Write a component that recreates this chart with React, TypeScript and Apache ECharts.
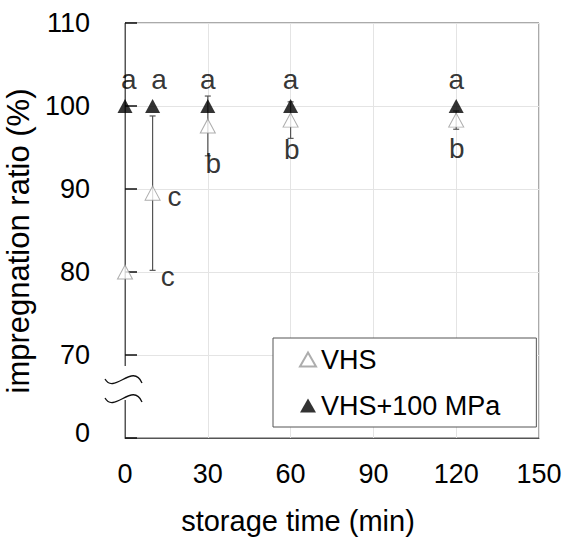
import React, { useEffect, useRef } from 'react';
import * as echarts from 'echarts';

const timeMin = [0, 10, 30, 60, 120];
const vhsMean = [80, 89.5, 97.6, 98.3, 98.3];
const vhsSd = [0, 9.3, 3.6, 2.2, 1.1];
const hpMean = [100, 100, 100, 100, 100];
const hpSd = [0, 0, 0, 0, 0];

const yTickValues = [60, 70, 80, 90, 100, 110];
const yTickLabels = ['0', '70', '80', '90', '100', '110'];

const letterText = ['a', 'a', 'a', 'a', 'a', 'c', 'c', 'b', 'b', 'b'];
const letterX = [1.4, 12.3, 30, 60, 120, 17.9, 15.5, 32, 60.4, 120.2];
const letterY = [103.2, 103.2, 103.2, 103.2, 103.2, 89.1, 79.5, 93.1, 94.7, 94.9];

const FONT = '"Liberation Sans", Arial, sans-serif';

export default function App() {
  const ref = useRef<HTMLDivElement>(null);
  useEffect(() => {
    if (!ref.current) return;
    const chart = echarts.init(ref.current, null, { renderer: 'svg' });

    const errData: number[][] = [];
    timeMin.forEach((t, i) => {
      if (vhsSd[i] > 0) errData.push([t, vhsMean[i] - vhsSd[i], vhsMean[i] + vhsSd[i]]);
      if (hpSd[i] > 0) errData.push([t, hpMean[i] - hpSd[i], hpMean[i] + hpSd[i]]);
    });

    const wave = (dy: number) => ({
      type: 'bezierCurve',
      z: 101,
      shape: { x1: 105, y1: 379 + dy, x2: 142, y2: 383 + dy, cpx1: 114, cpy1: 395 + dy, cpx2: 133, cpy2: 362 + dy },
      style: { stroke: '#111', lineWidth: 1.3, fill: null },
    });

    chart.setOption({
      animation: false,
      backgroundColor: '#fff',
      textStyle: { fontFamily: FONT },
      grid: {
        left: 125, right: 27, top: 23, bottom: 105, show: true, borderColor: '#555', borderWidth: 1,
        containLabel: false, outerBoundsMode: 'none',
      },
      xAxis: {
        type: 'value', min: 0, max: 150, interval: 30,
        name: 'storage time (min)', nameLocation: 'middle', nameGap: 68,
        nameTextStyle: { fontSize: 29, color: '#000', fontFamily: FONT, padding: [0, 68, 0, 0] },
        axisLine: { show: true, lineStyle: { color: '#555' } },
        axisTick: { show: false },
        axisLabel: { fontSize: 27, color: '#000', margin: 22, fontFamily: FONT },
        splitLine: { show: true, lineStyle: { color: '#e4e4e4' } },
      },
      yAxis: {
        type: 'value', min: 60, max: 110, interval: 10,
        name: 'impregnation ratio (%)', nameLocation: 'middle', nameGap: 82,
        nameTextStyle: { fontSize: 31, color: '#000', fontFamily: FONT, padding: [0, 21, 0, 0] },
        axisLine: { show: true, lineStyle: { color: '#555' } },
        axisTick: { show: true, inside: true, length: 12, lineStyle: { color: '#111', width: 1.5 } },
        axisLabel: {
          fontSize: 27, color: '#000', margin: 35, fontFamily: FONT,
          formatter: (v: number) => {
            const i = yTickValues.indexOf(v);
            const s = i >= 0 ? yTickLabels[i] : '';
            return v === 60 ? '{z|' + s + '}' : s;
          },
          rich: { z: { fontSize: 27, color: '#000', fontFamily: FONT, padding: [0, 0, 10, 0] } },
        },
        splitLine: { show: true, lineStyle: { color: '#e4e4e4' } },
      },
      legend: {
        orient: 'vertical', left: 273, top: 338,
        data: ['VHS', 'VHS+100 MPa'],
        icon: 'triangle', itemWidth: 16, itemHeight: 14, itemGap: 19,
        backgroundColor: '#fff', borderColor: '#555', borderWidth: 1,
        padding: [8, 36, 8, 26], selectedMode: false,
        textStyle: { fontSize: 27, color: '#000', fontFamily: FONT },
      },
      series: [
        {
          type: 'custom', name: 'err', z: 1, silent: true,
          data: errData,
          renderItem: (params: any, api: any) => {
            const x = api.value(0);
            const lo = api.coord([x, api.value(1)]);
            const hi = api.coord([x, api.value(2)]);
            const w = 3;
            const st = { stroke: '#555', lineWidth: 1.2 };
            return {
              type: 'group',
              children: [
                { type: 'line', shape: { x1: lo[0], y1: lo[1], x2: hi[0], y2: hi[1] }, style: st },
                { type: 'line', shape: { x1: lo[0] - w, y1: lo[1], x2: lo[0] + w, y2: lo[1] }, style: st },
                { type: 'line', shape: { x1: hi[0] - w, y1: hi[1], x2: hi[0] + w, y2: hi[1] }, style: st },
              ],
            };
          },
        },
        {
          type: 'scatter', name: 'VHS', z: 3,
          symbol: 'triangle', symbolSize: [15, 14],
          itemStyle: { color: '#fff', borderColor: '#999', borderWidth: 1 },
          data: timeMin.map((t, i) => [t, vhsMean[i]]),
        },
        {
          type: 'scatter', name: 'VHS+100 MPa', z: 4,
          symbol: 'triangle', symbolSize: [15, 14],
          itemStyle: { color: '#000' },
          data: timeMin.map((t, i) => [t, hpMean[i]]),
        },
        {
          type: 'scatter', name: 'letters', z: 5, silent: true,
          symbolSize: 0,
          label: { show: true, position: 'inside', formatter: '{b}', fontSize: 28, color: '#000', fontFamily: FONT },
          labelLayout: { hideOverlap: false },
          data: letterText.map((s, i) => ({ name: s, value: [letterX[i], letterY[i]] })),
        },
      ],
      graphic: [
        { type: 'rect', z: 100, shape: { x: 118, y: 366, width: 14, height: 34 }, style: { fill: '#fff' } },
        wave(0),
        wave(19),
      ],
    });
    return () => chart.dispose();
  }, []);
  return <div ref={ref} style={{ position: 'fixed', left: 0, top: 0, width: 566, height: 543 }} />;
}
